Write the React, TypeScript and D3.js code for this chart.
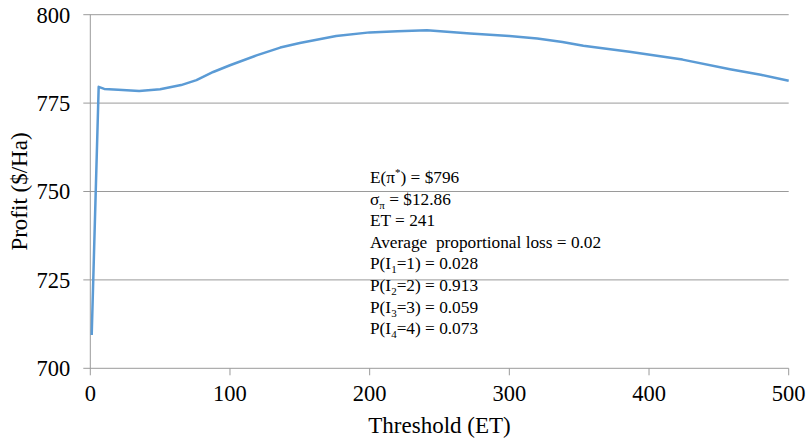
import React, { useEffect, useRef } from 'react'
import * as d3 from 'd3'

// threshold (ET) and expected profit ($/Ha)
const thresholds = [1, 6, 10, 20, 35, 50, 65, 76, 88, 100, 119, 136, 150, 176, 200, 220, 241, 272, 300, 320, 338, 353, 386, 424, 458, 480, 500]
const profits = [709.4, 779.6, 779.0, 778.8, 778.4, 778.9, 780.1, 781.5, 783.8, 785.7, 788.5, 790.7, 792.0, 794.0, 795.0, 795.3, 795.6, 794.7, 794.0, 793.3, 792.3, 791.2, 789.5, 787.3, 784.6, 783.0, 781.3]

const xTicks = [0, 100, 200, 300, 400, 500]
const yTicks = [700, 725, 750, 775, 800]

// annotation lines: [main, subscript/superscript, rest, kind]
const notes: [string, string, string, string][] = [
  ['E(π', '*', ') = $796', 'sup'],
  ['σ', 'π', ' = $12.86', 'sub'],
  ['ET = 241', '', '', ''],
  ['Average\u00a0 proportional loss = 0.02', '', '', ''],
  ['P(I', '1', '=1) = 0.028', 'sub'],
  ['P(I', '2', '=2) = 0.913', 'sub'],
  ['P(I', '3', '=3) = 0.059', 'sub'],
  ['P(I', '4', '=4) = 0.073', 'sub'],
]

export default function App() {
  const ref = useRef<SVGSVGElement>(null)

  useEffect(() => {
    const svg = d3.select(ref.current)
    svg.selectAll('*').remove()

    const margin = { top: 14.7, left: 90.3 }
    const width = 698.4, height = 353.6
    const font = '"Liberation Serif", "Times New Roman", serif'
    const gridColor = '#9a9a9a'

    const x = d3.scaleLinear().domain([0, 500]).range([0, width])
    const y = d3.scaleLinear().domain([700, 800]).range([height, 0])

    const g = svg.append('g').attr('transform', 'translate(' + margin.left + ',' + margin.top + ')')

    // horizontal gridlines
    g.append('g').selectAll('line').data(yTicks).enter().append('line')
      .attr('x1', -7).attr('x2', width)
      .attr('y1', d => y(d)).attr('y2', d => y(d))
      .attr('stroke', gridColor).attr('stroke-width', 1)

    // left axis line
    g.append('line').attr('x1', 0).attr('x2', 0).attr('y1', 0).attr('y2', height)
      .attr('stroke', gridColor).attr('stroke-width', 1)

    // bottom ticks
    g.append('g').selectAll('line').data(xTicks).enter().append('line')
      .attr('x1', d => x(d)).attr('x2', d => x(d))
      .attr('y1', height).attr('y2', height + 7)
      .attr('stroke', gridColor).attr('stroke-width', 1)

    // tick labels
    g.append('g').selectAll('text').data(yTicks).enter().append('text')
      .attr('x', -20).attr('y', d => y(d)).attr('dy', '0.35em')
      .attr('text-anchor', 'end').attr('font-family', font).attr('font-size', 22.5)
      .attr('fill', '#000').text(d => d)

    g.append('g').selectAll('text').data(xTicks).enter().append('text')
      .attr('x', d => x(d)).attr('y', height + 33)
      .attr('text-anchor', 'middle').attr('font-family', font).attr('font-size', 22.5)
      .attr('fill', '#000').text(d => d)

    // axis titles
    g.append('text').attr('x', width / 2).attr('y', height + 65)
      .attr('text-anchor', 'middle').attr('font-family', font).attr('font-size', 23)
      .attr('fill', '#000').text('Threshold (ET)')

    g.append('text').attr('transform', 'translate(' + (-63) + ',' + (height / 2) + ') rotate(-90)')
      .attr('text-anchor', 'middle').attr('font-family', font).attr('font-size', 23)
      .attr('fill', '#000').text('Profit ($/Ha)')

    // profit curve
    const pts = thresholds.map((t, i) => [t, profits[i]] as [number, number])
    const line = d3.line<[number, number]>().x(d => x(d[0])).y(d => y(d[1]))
    g.append('path').datum(pts).attr('d', line)
      .attr('fill', 'none').attr('stroke', '#5B9BD5').attr('stroke-width', 2.5)
      .attr('stroke-linejoin', 'round')

    // annotation block
    const notesG = svg.append('g').attr('font-family', font).attr('font-size', 17.3).attr('fill', '#000')
    notes.forEach((n, i) => {
      const t = notesG.append('text').attr('x', 370).attr('y', 183 + i * 21.6)
      t.append('tspan').text(n[0])
      if (n[1]) {
        t.append('tspan').attr('font-size', 11).attr('dy', n[3] === 'sup' ? -7 : 4).text(n[1])
        t.append('tspan').attr('dy', n[3] === 'sup' ? 7 : -4).text(n[2])
      }
    })
  }, [])

  return (
    <div>
      <style>{'body{margin:0}'}</style>
      <svg ref={ref} width={809} height={446} style={{ display: 'block', background: '#fff' }} />
    </div>
  )
}
